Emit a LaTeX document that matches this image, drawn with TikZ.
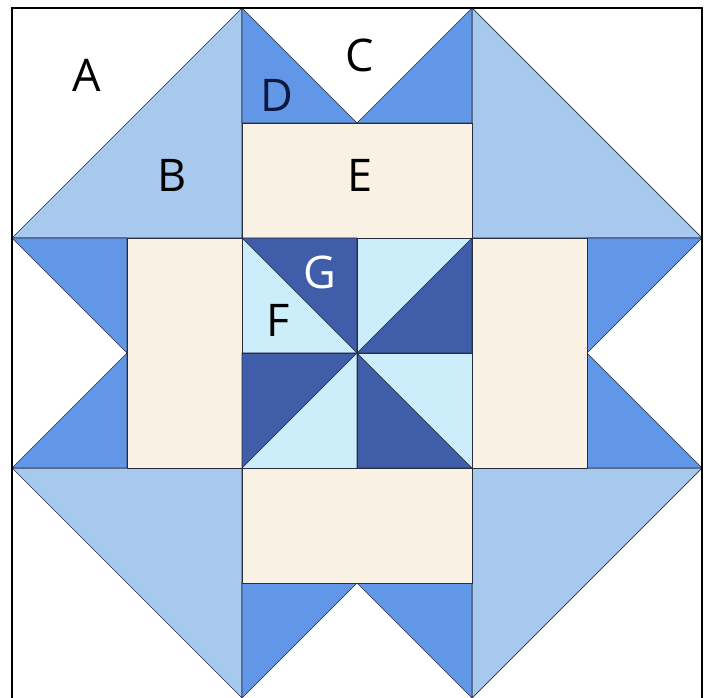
\documentclass[tikz,border=0pt]{standalone}
\usepackage{fontspec}
\setmainfont{Open Sans}
\definecolor{cornerblue}{RGB}{167,201,238}
\definecolor{geeseblue}{RGB}{98,150,230}
\definecolor{barcream}{RGB}{249,242,228}
\definecolor{wheelnavy}{RGB}{64,93,170}
\definecolor{wheelice}{RGB}{204,238,250}
\definecolor{seamgray}{RGB}{40,45,60}
\definecolor{letternavy}{RGB}{12,24,64}
\tikzset{
  patch/.style={fill=#1, draw=seamgray, line width=0.7pt, line join=round},
  seam/.style={draw=seamgray, line width=0.7pt},
  letter/.style={font=\fontsize{45}{45}\selectfont, text=#1, inner sep=0pt},
}
\begin{document}
\begin{tikzpicture}[x=115pt, y=-115pt]

      \useasboundingbox (-0.10435,-0.06957) rectangle (6.05217,6.0);
      \fill[white] (-0.10435,-0.06957) rectangle (6.05217,6.0);

      %% ---- corner triangles ----
      \foreach \ax/\ay/\bx/\by/\cx/\cy in {2/0/0/2/2/2, 4/0/6/2/4/2,
                                           0/4/2/4/2/6, 4/4/6/4/4/6}{
        \draw[patch=cornerblue] (\ax,\ay) -- (\bx,\by) -- (\cx,\cy) -- cycle;}

      %% ---- flying geese on the four sides ----
      \foreach \ax/\ay/\bx/\by/\cx/\cy in {2/0/2/1/3/1, 4/0/4/1/3/1,
                                           2/5/3/5/2/6, 3/5/4/5/4/6,
                                           0/2/1/2/1/3, 1/3/1/4/0/4,
                                           5/2/6/2/5/3, 5/3/5/4/6/4}{
        \draw[patch=geeseblue] (\ax,\ay) -- (\bx,\by) -- (\cx,\cy) -- cycle;}

      %% ---- cream bars ----
      \foreach \ax/\ay/\bx/\by in {2/1/4/2, 2/4/4/5, 1/2/2/4, 4/2/5/4}{
        \draw[patch=barcream] (\ax,\ay) rectangle (\bx,\by);}

      %% ---- centre pinwheel ----
      \draw[patch=wheelice] (2,2) rectangle (4,4);
      \foreach \ax/\ay/\bx/\by/\cx/\cy in {2/2/3/2/3/3, 4/2/4/3/3/3,
                                           2/3/3/3/2/4, 3/3/3/4/4/4}{
        \draw[patch=wheelnavy] (\ax,\ay) -- (\bx,\by) -- (\cx,\cy) -- cycle;}
      \draw[seam] (3,2) -- (3,4) (2,3) -- (4,3);

      %% ---- outer frame ----
      \draw[black, line width=1.4pt] (0,6.2) -- (0,0) -- (6,0) -- (6,6.2);

      %% ---- letters ----
      \node[letter=black] (labA) at (0.652,0.583) {A};
      \node[letter=black] (labB) at (1.391,1.452) {B};
      \node[letter=black] (labC) at (3.026,0.409) {C};
      \node[letter=letternavy] (labD) at (2.304,0.757) {D};
      \node[letter=black] (labE) at (3.026,1.452) {E};
      \node[letter=black] (labF) at (2.313,2.713) {F};
      \node[letter=white] (labG) at (2.678,2.296) {G};
      \end{tikzpicture}
\end{document}
